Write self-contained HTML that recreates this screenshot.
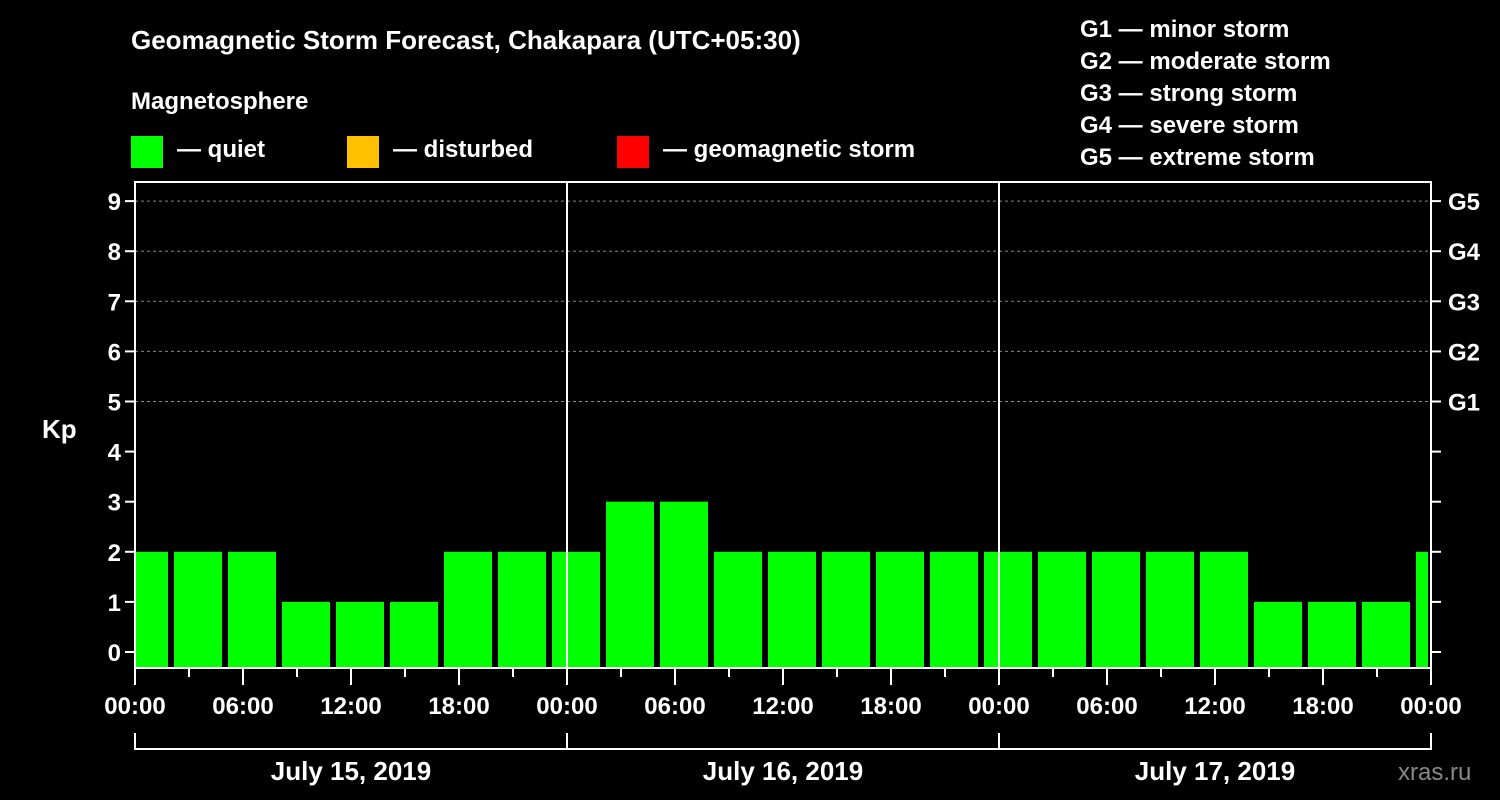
<!DOCTYPE html>
<html><head><meta charset="utf-8"><style>
html,body{margin:0;padding:0;background:#000;}
svg{display:block;font-family:"Liberation Sans",sans-serif;font-weight:bold;}
</style></head><body>
<svg id="chart" width="1500" height="800" viewBox="0 0 1500 800">
<rect width="1500" height="800" fill="#000"/>
<text x="131" y="49" fill="#fff" font-size="26">Geomagnetic Storm Forecast, Chakapara (UTC+05:30)</text>
<text x="131" y="109" fill="#fff" font-size="24">Magnetosphere</text>
<g><rect x="131" y="136" width="32" height="32" fill="#00ff00"/><text x="177" y="157" fill="#fff" font-size="24">— quiet</text></g>
<g><rect x="347" y="136" width="32" height="32" fill="#ffc000"/><text x="393" y="157" fill="#fff" font-size="24">— disturbed</text></g>
<g><rect x="617" y="136" width="32" height="32" fill="#ff0000"/><text x="663" y="157" fill="#fff" font-size="24">— geomagnetic storm</text></g>
<g fill="#fff" font-size="24">
<text x="1080" y="37">G1 — minor storm</text>
<text x="1080" y="69">G2 — moderate storm</text>
<text x="1080" y="101">G3 — strong storm</text>
<text x="1080" y="133">G4 — severe storm</text>
<text x="1080" y="165">G5 — extreme storm</text>
</g>
<text x="42" y="438" fill="#fff" font-size="26">Kp</text>
<text x="1398" y="780" fill="#888" font-size="24" font-weight="normal">xras.ru</text>
<g id="grid"></g><g id="bars"></g><g id="axes"></g>
</svg>
<script>
const startHours = [-1,2,5,8,11,14,17,20,23,26,29,32,35,38,41,44,47,50,53,56,59,62,65,68,71];
const kpValues = [2,2,2,1,1,1,2,2,2,3,3,2,2,2,2,2,2,2,2,2,2,1,1,1,2];
const dayLabels = ["July 15, 2019","July 16, 2019","July 17, 2019"];
const yTicks = [0,1,2,3,4,5,6,7,8,9];
const gLabels = ["G1","G2","G3","G4","G5"];
const gLevels = [5,6,7,8,9];
const xTickLabels = ["00:00","06:00","12:00","18:00"];

const L=135,R=1431,T=182,B=668;
const xs=h=>L+(R-L)*h/72;
const ys=k=>652-50.1*k;
const NS="http://www.w3.org/2000/svg";
function mk(tag,attrs,parent){const e=document.createElementNS(NS,tag);for(const k in attrs)e.setAttribute(k,attrs[k]);parent.appendChild(e);return e;}
const grid=document.getElementById('grid'),bars=document.getElementById('bars'),axes=document.getElementById('axes');

gLevels.forEach((g,i)=>{
  const l=mk('line',{x1:L,x2:R,y1:ys(g),y2:ys(g),stroke:'#888','stroke-dasharray':'3,3','stroke-width':1},grid);
  
  
  const t=mk('text',{x:1448,y:ys(g)+9,fill:'#fff','font-size':24},axes);t.textContent=gLabels[i];
  
  
});
startHours.forEach((h,i)=>{
  const a=Math.max(0,h),b=Math.min(72,h+3);
  const x1=xs(a)+(h<0?1:3),x2=xs(b)-(h+3>72?3:3);
  const r=mk('rect',{x:x1,y:ys(kpValues[i]),width:Math.max(0,x2-x1),height:B-ys(kpValues[i]),fill:'#00ff00'},bars);
  
  
});
for(let d=1;d<3;d++){const l=mk('line',{x1:xs(24*d),x2:xs(24*d),y1:T,y2:B,stroke:'#fff','stroke-width':2},axes);
  
  }
const fr=mk('rect',{x:L,y:T,width:R-L,height:B-T,fill:'none',stroke:'#fff','stroke-width':2},axes);


yTicks.forEach(k=>{
  mk('line',{x1:L-10,x2:L,y1:ys(k),y2:ys(k),stroke:'#fff','stroke-width':2},axes);
  mk('line',{x1:R,x2:R+10,y1:ys(k),y2:ys(k),stroke:'#fff','stroke-width':2},axes);
  const t=mk('text',{x:L-14,y:ys(k)+9,fill:'#fff','font-size':24,'text-anchor':'end'},axes);t.textContent=k;
  
  
});
for(let h=0;h<=72;h+=3){
  const major=h%6===0;
  mk('line',{x1:xs(h),x2:xs(h),y1:B,y2:B+(major?17:9),stroke:'#fff','stroke-width':2},axes);
  if(major){const t=mk('text',{x:xs(h),y:714,fill:'#fff','font-size':24,'text-anchor':'middle'},axes);
    t.textContent=xTickLabels[(h/6)%4];
    
    }
}
dayLabels.forEach((d,i)=>{
  const a=xs(24*i),b=xs(24*(i+1));
  mk('path',{d:`M${a},733V749H${b}V733`,stroke:'#fff','stroke-width':2,fill:'none'},axes);
  const t=mk('text',{x:(a+b)/2,y:780,fill:'#fff','font-size':26,'text-anchor':'middle'},axes);t.textContent=d;
  
  
});
</script>
</body></html>
